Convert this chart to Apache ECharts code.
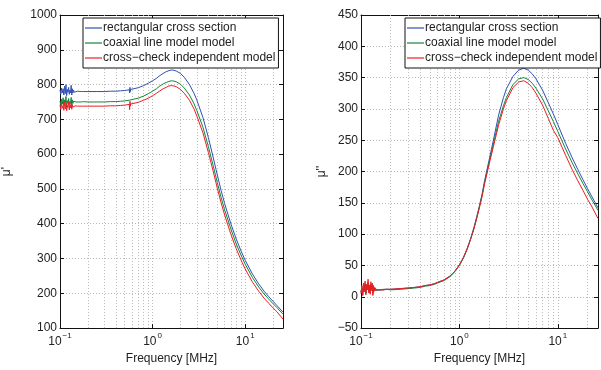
<!DOCTYPE html>
<html>
<head>
<meta charset="utf-8">
<script src="https://cdn.jsdelivr.net/npm/echarts@6/dist/echarts.min.js"></script>
<style>
html,body{margin:0;padding:0;background:#fff;}
#chart{width:601px;height:370px;}
</style>
</head>
<body>
<div id="chart"></div>
<script>
// ---------- data (frequency in MHz) ----------
const noiseFreq = [0.100,0.102,0.104,0.106,0.108,0.110,0.112,0.114,0.116,0.118,0.120,0.122,0.124,0.126,0.128,0.130,0.132,0.134,0.136,0.138,0.140,0.143,0.146,0.150,0.155,0.160,0.170,0.180];
const smoothFreq = [0.2,0.25,0.3,0.35,0.4,0.45,0.5,0.56,0.565,0.57,0.575,0.58,0.6,0.7,0.8,0.9,1.0,1.1,1.2,1.3,1.4,1.5,1.6,1.7,1.8,2.0,2.2,2.5,2.8,3.0,3.5,4.0,4.5,5.0,5.5,6,7,8,9,10,12,14,16,18,20,22,25.6];

// mu' (left)
const muRealRectNoise = [785,772,790,776,788,770,795,774,800,768,786,778,792,772,784,776,798,770,788,776,784,778,782,779,781,780,780,780];
const muRealRect = [780,780,780,781,781,782,783,785,776,792,780,786,787,791,797,804,811,818,826,832,837,840,842,841,839,832,821,800,775,756,705,648,592,540,495,458,400,356,322,295,255,227,206,190,177,165,146];
const muRealCoaxNoise = [752,740,758,744,762,738,756,745,766,736,754,746,760,742,752,746,763,740,756,746,752,749,751,750,751,750,750,751];
const muRealCoax = [750,750,750,751,751,752,753,755,752,759,754,756,757,761,767,774,781,788,796,802,806,809,811,810,808,801,790,770,745,726,677,622,568,518,475,440,385,342,310,284,245,218,198,183,170,159,140];
const muRealCrossNoise = [742,728,748,732,738,726,752,730,744,725,740,734,750,727,741,733,748,729,742,735,739,737,739,738,738,738,738,738];
const muRealCross = [738,738,738,739,739,740,741,743,728,752,738,744,745,749,755,761,768,775,782,788,792,796,797,796,794,786,775,755,730,710,661,605,552,502,460,425,370,328,296,270,232,206,186,171,158,147,126];

// mu'' (right)
const muImagRectNoise = [8,14,4,18,9,20,6,16,12,22,8,15,7,19,11,18,6,15,10,14,11,12,11,11,11,12,12,12];
const muImagRect = [12,13,14,15,16,18,19,21,21,22,21,22,23,27,33,41,51,63,77,93,110,128,146,164,185,218,248,290,318,332,352,362,365,362,356,348,330,310,292,275,245,222,203,187,173,161,142];
const muImagCoaxNoise = [7,15,3,19,8,21,5,17,11,23,7,16,6,20,10,19,5,16,9,14,10,12,10,11,11,11,11,12];
const muImagCoax = [11,12,13,14,15,17,18,20,20,21,20,21,22,26,32,40,50,62,76,92,108,126,144,162,182,214,242,280,305,318,339,348,350,347,341,333,316,297,280,264,236,214,196,181,168,156,138];
const muImagCrossNoise = [5,18,2,22,8,25,3,20,12,28,6,19,4,24,10,22,2,18,9,15,11,13,10,11,11,11,11,12];
const muImagCross = [12,13,14,15,16,18,19,21,22,24,21,22,23,27,33,41,51,63,77,92,108,125,143,160,180,211,238,274,300,313,334,343,345,341,334,325,306,285,266,254,226,203,185,170,156,145,125];

const seriesNames = ['rectangular cross section','coaxial line model model','cross\u2212check independent model'];
const seriesColors = ['#2f50b5','#12873a','#ee1d23'];

const leftYTicks = {min:100, max:1000, interval:100};
const rightYTicks = {min:-50, max:450, interval:50};
const xMin = 0.1, xMax = 25.6;

// ---------- build ----------
const freq = noiseFreq.concat(smoothFreq);
const pairs = (n, s) => { const v = n.concat(s); return freq.map((f,i)=>[f, v[i]]); };
const leftData = [pairs(muRealRectNoise,muRealRect), pairs(muRealCoaxNoise,muRealCoax), pairs(muRealCrossNoise,muRealCross)];
const rightData = [pairs(muImagRectNoise,muImagRect), pairs(muImagCoaxNoise,muImagCoax), pairs(muImagCrossNoise,muImagCross)];

const minorX = [];
[0.1,1,10].forEach(d=>{ for(let k=2;k<=9;k++){ const v=+(d*k).toPrecision(3); if(v<xMax) minorX.push(v);} });

const FONT = 'Liberation Sans, Arial, Helvetica, sans-serif';
const gridLine = {color:'#b8b8b8', type:[1,2], width:1};

function xLabelFmt(v){
  const e = Math.log10(v);
  const r = Math.round(e);
  if (Math.abs(e-r) > 1e-6) return '';
  return '{b|10}{s|' + (r<0 ? '\u2212'+(-r) : r) + '}';
}

const grids = [
  {left:38, top:15, width:245, height:322},
  {left:361, top:15, width:242, height:322}
];

function xAxes(gi, max){
  return [
    {type:'log', logBase:10, gridIndex:gi, min:xMin, max:max, position:'bottom',
     name:'Frequency [MHz]', nameLocation:'middle', nameGap:19,
     nameTextStyle:{fontFamily:FONT, fontSize:12, color:'#222'},
     axisLine:{onZero:false, lineStyle:{color:'#111', width:1}},
     axisTick:{inside:true, length:4, lineStyle:{color:'#111'}},
     splitLine:{show:true, lineStyle:gridLine},
     axisLabel:{formatter:xLabelFmt, margin:4, showMinLabel:true, showMaxLabel:true,
       rich:{b:{fontFamily:FONT, fontSize:12, color:'#222', verticalAlign:'bottom', lineHeight:16},
             s:{fontFamily:FONT, fontSize:8, color:'#222', verticalAlign:'top', lineHeight:16, padding:[0,0,0,1]}}}},
    {type:'log', logBase:10, gridIndex:gi, min:xMin, max:max, position:'top',
     axisLine:{onZero:false, lineStyle:{color:'#111', width:1}},
     axisTick:{inside:true, length:4, lineStyle:{color:'#111'}},
     axisLabel:{show:false}, splitLine:{show:false}}
  ];
}
function yAxes(gi, t, name, gap){
  return [
    {type:'value', gridIndex:gi, min:t.min, max:t.max, interval:t.interval, position:'left',
     name:name, nameLocation:'middle', nameGap:gap, nameRotate:90, nameMoveOverlap:false,
     nameTextStyle:{fontFamily:FONT, fontSize:12, color:'#222'},
     axisLine:{show:true, onZero:false, lineStyle:{color:'#111', width:1}},
     axisTick:{show:true, inside:true, length:4, lineStyle:{color:'#111'}},
     splitLine:{show:true, lineStyle:gridLine},
     axisLabel:{fontFamily:FONT, fontSize:12, color:'#222', margin:3,
       formatter:v=>String(v).replace('-','\u2212')}},
    {type:'value', gridIndex:gi, min:t.min, max:t.max, interval:t.interval, position:'right',
     axisLine:{show:true, onZero:false, lineStyle:{color:'#111', width:1}},
     axisTick:{show:true, inside:true, length:4, lineStyle:{color:'#111'}},
     axisLabel:{show:false}, splitLine:{show:false}}
  ];
}

const series = [];
function addSeries(dataSets, xi, yi){
  dataSets.forEach((d, k)=>{
    const s = {type:'line', name:seriesNames[k], xAxisIndex:xi, yAxisIndex:yi, data:d,
      showSymbol:false, symbol:'none', animation:false, z:3,
      lineStyle:{color:seriesColors[k], width:1}, itemStyle:{color:seriesColors[k]}};
    if (k===0){
      s.markLine = {silent:true, symbol:['none','none'], z:1, animation:false,
        label:{show:false}, lineStyle:gridLine, emphasis:{disabled:true},
        data:minorX.map(v=>({xAxis:v}))};
    }
    series.push(s);
  });
}
addSeries(leftData, 0, 0);
addSeries(rightData, 2, 2);

function legend(left){
  return {left:left, top:18, orient:'vertical', data:seriesNames,
    backgroundColor:'#fff', borderColor:'#111', borderWidth:1,
    padding:[3,3,3,2], itemGap:1, itemWidth:17, itemHeight:1.2, icon:'rect',
    selectedMode:false,
    textStyle:{fontFamily:FONT, fontSize:12, color:'#222', padding:[0,0,0,-4], lineHeight:14}};
}

const chart = echarts.init(document.getElementById('chart'), null, {renderer:'canvas'});
chart.setOption({
  animation:false,
  backgroundColor:'#fff',
  grid:grids,
  xAxis:[...xAxes(0, xMax), ...xAxes(1, xMax)],
  yAxis:[...yAxes(0, leftYTicks, "\u03bc'", 47), ...yAxes(1, rightYTicks, "\u03bc''", 33)],
  legend:[legend(83), legend(405)],
  series:series
});
</script>
</body>
</html>
